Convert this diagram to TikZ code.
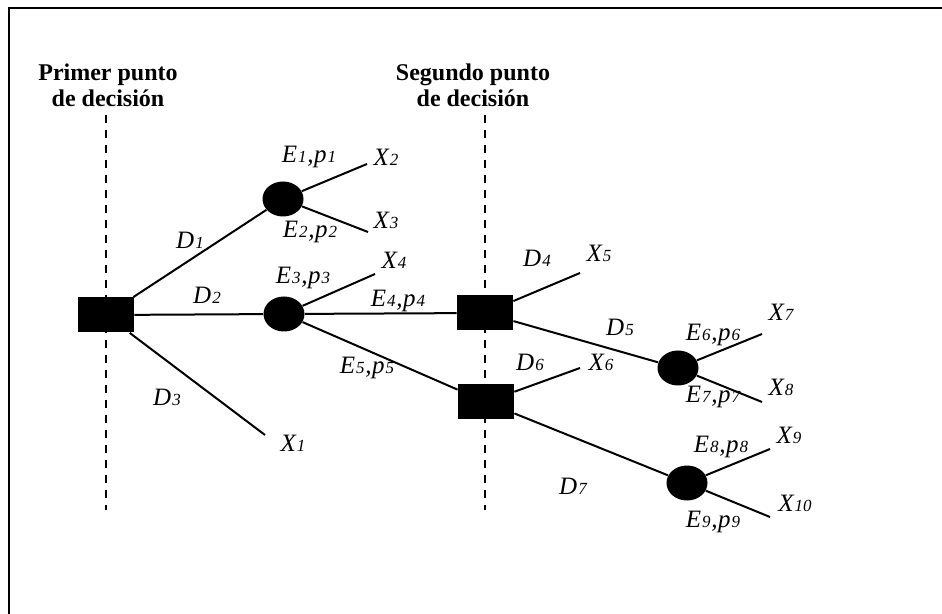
\documentclass[tikz,border=0pt]{standalone}
\usepackage{fontspec}
\setmainfont{Liberation Serif}
\usetikzlibrary{shapes.geometric}
\newcommand{\sbn}[1]{{\fontsize{8.5}{8.5}\selectfont #1}}
\newcommand{\ep}[3]{#1\kern0.5pt\sbn{#3}\kern0.4pt,\kern0.3pt#2\kern0.5pt\sbn{#3}}
\begin{document}
\begin{tikzpicture}[x=0.5pt,y=-0.5pt,
  dec/.style={rectangle, fill=black, minimum width=28pt, minimum height=17.5pt, inner sep=0pt},
  chance/.style={ellipse, fill=black, minimum width=20.5pt, minimum height=17.5pt, inner sep=0pt},
  branch/.style={line width=1pt},
  guide/.style={line width=0.9pt, dash pattern=on 4pt off 3.5pt},
  frame/.style={line width=1.4pt},
  lab/.style={font=\fontsize{12.5}{13}\selectfont\itshape, inner sep=0pt},
  ttl/.style={font=\fontsize{12}{13}\selectfont\bfseries, align=center, inner sep=0pt}]
\useasboundingbox (0,0) rectangle (942,614);
% frame
\coordinate (fbl) at (9,614);
\coordinate (ftl) at (9,8);
\coordinate (ftr) at (942,8);
\draw[frame] (fbl) -- (ftl) -- (ftr);
% titles
\node[ttl] (t1) at (108,85) {Primer punto\\de decisión};
\node[ttl] (t2) at (473,85) {Segundo punto\\de decisión};
% guide lines
\coordinate (g1a) at (106,115);
\coordinate (g1b) at (106,510);
\coordinate (g2a) at (485,115);
\coordinate (g2b) at (485,510);
\draw[guide] (g1a) -- (g1b);
\draw[guide] (g2a) -- (g2b);
% nodes
\node[dec] (s1) at (106,315) {};
\node[chance] (c1) at (283,199) {};
\node[chance] (c2) at (284,314) {};
\node[dec] (s2) at (485,313) {};
\node[dec] (s3) at (486,402) {};
\node[chance] (c3) at (678,368) {};
\node[chance] (c4) at (687,483) {};
% free ends
\coordinate (e1) at (265,435);
\coordinate (e2) at (367,164);
\coordinate (e3) at (368,232);
\coordinate (e4) at (375,274);
\coordinate (e5) at (580,273);
\coordinate (e6) at (580,368);
\coordinate (e7) at (762,334);
\coordinate (e8) at (762,402);
\coordinate (e9) at (770,449);
\coordinate (e10) at (770,517);
% branches
\draw[branch] (s1) -- (c1);
\draw[branch] (s1) -- (c2);
\draw[branch] (s1) -- (e1);
\draw[branch] (c1) -- (e2);
\draw[branch] (c1) -- (e3);
\draw[branch] (c2) -- (e4);
\draw[branch] (c2) -- (s2);
\draw[branch] (c2) -- (s3);
\draw[branch] (s2) -- (e5);
\draw[branch] (s2) -- (c3);
\draw[branch] (s3) -- (e6);
\draw[branch] (s3) -- (c4);
\draw[branch] (c3) -- (e7);
\draw[branch] (c3) -- (e8);
\draw[branch] (c4) -- (e9);
\draw[branch] (c4) -- (e10);
% labels
\node[lab] (lD1) at (190,240) {D\kern0.6pt\sbn{1}};
\node[lab] (lD2) at (207,295) {D\kern0.6pt\sbn{2}};
\node[lab] (lD3) at (167,397) {D\kern0.6pt\sbn{3}};
\node[lab] (lX1) at (293,443) {X\kern0.6pt\sbn{1}};
\node[lab] (lX2) at (386,157) {X\kern0.6pt\sbn{2}};
\node[lab] (lX3) at (386,220) {X\kern0.6pt\sbn{3}};
\node[lab] (lX4) at (394,260) {X\kern0.6pt\sbn{4}};
\node[lab] (lE1) at (309,157) {\ep{E}{p}{1}};
\node[lab] (lE2) at (310,232) {\ep{E}{p}{2}};
\node[lab] (lE3) at (303,278) {\ep{E}{p}{3}};
\node[lab] (lE4) at (398,301) {\ep{E}{p}{4}};
\node[lab] (lE5) at (367,368) {\ep{E}{p}{5}};
\node[lab] (lD4) at (537,258) {D\kern0.6pt\sbn{4}};
\node[lab] (lX5) at (599,253) {X\kern0.6pt\sbn{5}};
\node[lab] (lD5) at (620,327) {D\kern0.6pt\sbn{5}};
\node[lab] (lD6) at (530,362) {D\kern0.6pt\sbn{6}};
\node[lab] (lX6) at (601,362) {X\kern0.6pt\sbn{6}};
\node[lab] (lD7) at (573,486) {D\kern0.6pt\sbn{7}};
\node[lab] (lE6) at (713,335) {\ep{E}{p}{6}};
\node[lab] (lE7) at (713,397) {\ep{E}{p}{7}};
\node[lab] (lX7) at (781,312) {X\kern0.6pt\sbn{7}};
\node[lab] (lX8) at (781,387) {X\kern0.6pt\sbn{8}};
\node[lab] (lE8) at (721,447) {\ep{E}{p}{8}};
\node[lab] (lE9) at (713,522) {\ep{E}{p}{9}};
\node[lab] (lX9) at (789,435) {X\kern0.6pt\sbn{9}};
\node[lab] (lX10) at (795,503) {X\kern0.6pt\sbn{10}};
\end{tikzpicture}
\end{document}
